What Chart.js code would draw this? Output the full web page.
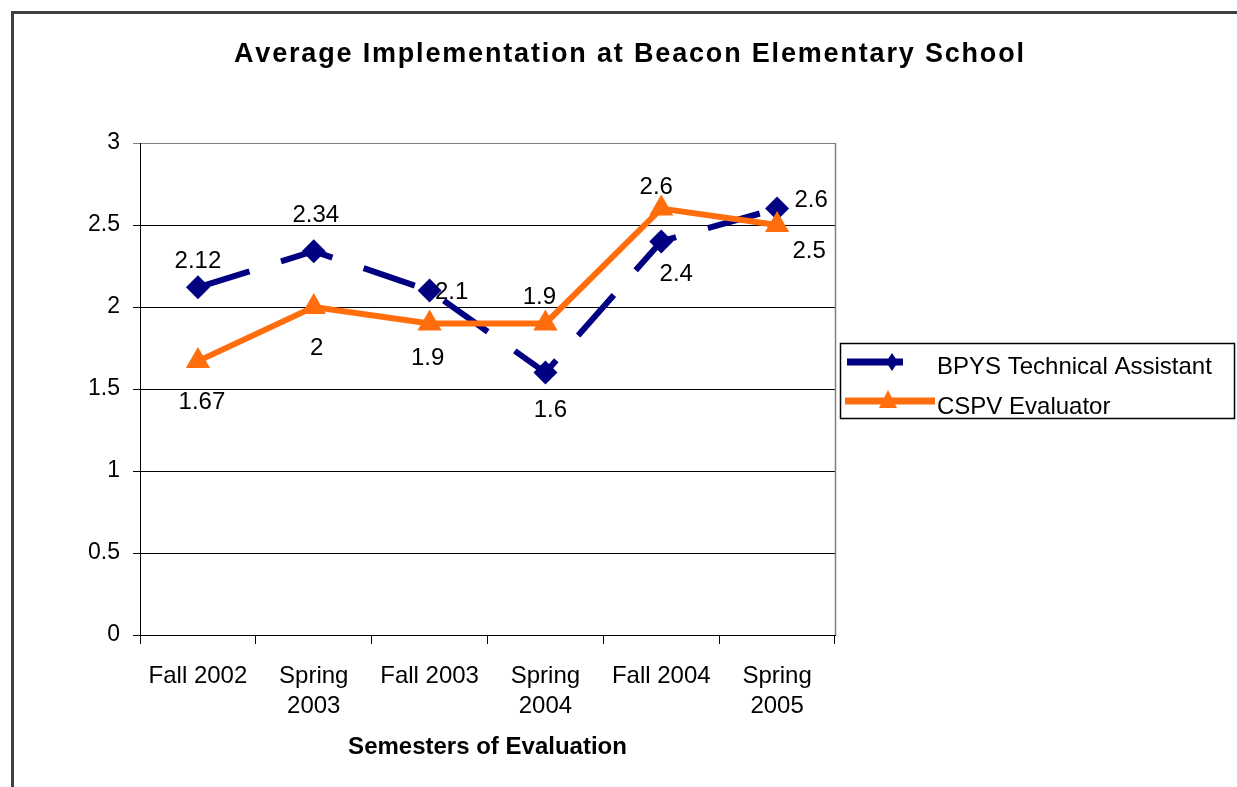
<!DOCTYPE html>
<html><head><meta charset="utf-8">
<script src="https://cdn.jsdelivr.net/npm/chart.js@4.4.1/dist/chart.umd.min.js"></script>
<style>html,body{margin:0;padding:0;background:#fff;overflow:hidden}#wrap{width:1237px;height:787px;position:relative}</style>
</head><body><div id="wrap"><canvas id="c" width="1237" height="787"></canvas></div>
<script>
// ---- data ----
const chartTitle = 'Average Implementation at Beacon Elementary School';
const xAxisTitle = 'Semesters of Evaluation';
const categories = ['Fall 2002', ['Spring', '2003'], 'Fall 2003', ['Spring', '2004'], 'Fall 2004', ['Spring', '2005']];
const seriesNames = ['BPYS Technical Assistant', 'CSPV Evaluator'];
const bpysValues = [2.12, 2.34, 2.1, 1.6, 2.4, 2.6];
const cspvValues = [1.67, 2, 1.9, 1.9, 2.6, 2.5];
const yTicks = { min: 0, max: 3, step: 0.5 };

// ---- styles ----
const FONT = "'Liberation Sans', Arial, sans-serif";
const NAVY = '#000080';
const ORANGE = '#ff6d0d';

const framePlugin = {
  id: 'frame',
  beforeDraw(chart) {
    const ctx = chart.ctx;
    ctx.save();
    ctx.fillStyle = '#fff';
    ctx.fillRect(0, 0, chart.width, chart.height);
    ctx.restore();
  },
  beforeDatasetsDraw(chart) {
    const { ctx, chartArea: a } = chart;
    ctx.save();
    ctx.strokeStyle = '#808080';
    ctx.lineWidth = 1.5;
    ctx.beginPath();
    ctx.moveTo(a.right + 0.5, a.top);
    ctx.lineTo(a.right + 0.5, a.bottom);
    ctx.stroke();
    ctx.restore();
  },
  afterDraw(chart) {
    const ctx = chart.ctx;
    ctx.save();
    // outer frame
    ctx.strokeStyle = '#404040';
    ctx.lineWidth = 3;
    ctx.beginPath();
    ctx.moveTo(12.5, chart.height + 5);
    ctx.lineTo(12.5, 12.5);
    ctx.lineTo(chart.width + 5, 12.5);
    ctx.stroke();

    // title with slightly spaced letters
    ctx.font = `bold 27px ${FONT}`;
    ctx.fillStyle = '#000';
    ctx.textBaseline = 'alphabetic';
    ctx.textAlign = 'left';
    const chars = [...chartTitle];
    const widths = chars.map(c => ctx.measureText(c).width);
    const natural = widths.reduce((s, w) => s + w, 0);
    const target = 790;
    const sp = (target - natural) / (chars.length - 1);
    let x = 629 - target / 2;
    chars.forEach((c, i) => { ctx.fillText(c, x, 62); x += widths[i] + sp; });

    // legend
    ctx.strokeStyle = '#000';
    ctx.lineWidth = 1.5;
    ctx.strokeRect(840.5, 343.5, 394, 75);
    const ds = chart.data.datasets;
    // entry 1
    ctx.strokeStyle = ds[0].borderColor;
    ctx.lineWidth = 7;
    ctx.beginPath(); ctx.moveTo(847, 362); ctx.lineTo(903, 362); ctx.stroke();
    ctx.fillStyle = ds[0].backgroundColor;
    ctx.beginPath();
    ctx.moveTo(892, 353); ctx.lineTo(898, 362); ctx.lineTo(892, 371); ctx.lineTo(886, 362); ctx.closePath();
    ctx.fill();
    // entry 2
    ctx.strokeStyle = ds[1].borderColor;
    ctx.beginPath(); ctx.moveTo(845, 401); ctx.lineTo(935, 401); ctx.stroke();
    ctx.fillStyle = ds[1].backgroundColor;
    ctx.beginPath();
    ctx.moveTo(888, 390); ctx.lineTo(897, 408); ctx.lineTo(879, 408); ctx.closePath();
    ctx.fill();
    ctx.fillStyle = '#000';
    ctx.font = `24px ${FONT}`;
    ctx.textBaseline = 'alphabetic';
    ctx.fillText(ds[0].label, 937, 374);
    ctx.fillText(ds[1].label, 937, 414);
    ctx.restore();
  }
};

const valueLabelPlugin = {
  id: 'valueLabels',
  afterDatasetsDraw(chart, args, opts) {
    const ctx = chart.ctx;
    ctx.save();
    ctx.font = `24px ${FONT}`;
    ctx.fillStyle = '#000';
    ctx.textAlign = 'center';
    ctx.textBaseline = 'middle';
    chart.data.datasets.forEach((ds, di) => {
      const meta = chart.getDatasetMeta(di);
      const offs = opts.offsets[di];
      meta.data.forEach((pt, i) => {
        const [dx, dy] = offs[i];
        ctx.fillText(String(ds.data[i]), pt.x + dx, pt.y + dy);
      });
    });
    ctx.restore();
  }
};

new Chart(document.getElementById('c'), {
  type: 'line',
  data: {
    labels: categories,
    datasets: [
      {
        label: seriesNames[0], data: bpysValues, order: 1,
        borderColor: NAVY, backgroundColor: NAVY, borderWidth: 6,
        borderDash: [54, 33], borderCapStyle: 'butt',
        pointStyle: 'rectRot', pointRadius: 12, pointHoverRadius: 12, pointBorderWidth: 0,
        tension: 0, clip: false
      },
      {
        label: seriesNames[1], data: cspvValues, order: 0,
        borderColor: ORANGE, backgroundColor: ORANGE, borderWidth: 6,
        pointStyle: 'triangle', pointRadius: 14, pointHoverRadius: 14, pointBorderWidth: 0,
        tension: 0, clip: false
      }
    ]
  },
  options: {
    responsive: false,
    devicePixelRatio: 1,
    animation: false,
    events: [],
    layout: { padding: { left: 0, top: 143, right: 402, bottom: 0 } },
    plugins: {
      legend: { display: false },
      title: { display: false },
      tooltip: { enabled: false },
      valueLabels: {
        offsets: [
          [[0, -26], [2, -36], [22, 2], [5, 38], [15, 33], [34, -8]],
          [[4, 41], [3, 41], [-2, 35], [-6, -26], [-5, -21], [32, 26]]
        ]
      }
    },
    scales: {
      x: {
        offset: true,
        afterFit(scale) { scale.height = 152; },
        grid: { drawOnChartArea: false, drawTicks: true, tickLength: 9, color: '#000', offset: true },
        border: { display: true, color: '#000', width: 1 },
        ticks: { color: '#000', font: { family: FONT, size: 24, lineHeight: 1.25 }, padding: 17, maxRotation: 0, autoSkip: false },
        title: { display: true, text: xAxisTitle, color: '#000', font: { family: FONT, size: 24, weight: 'bold', lineHeight: 1.2 }, padding: { top: 0, bottom: 25 } }
      },
      y: {
        min: yTicks.min, max: yTicks.max,
        afterFit(scale) { scale.width = 140; },
        grid: {
          color: c => (c.tick && c.tick.value === yTicks.max) ? '#808080' : '#000',
          lineWidth: 1, drawTicks: true, tickLength: 7
        },
        border: { display: true, color: '#000', width: 1 },
        ticks: { stepSize: yTicks.step, color: '#000', font: { family: FONT, size: 23 }, padding: 13, callback: v => String(v) }
      }
    }
  },
  plugins: [framePlugin, valueLabelPlugin]
});
</script>
</body></html>
